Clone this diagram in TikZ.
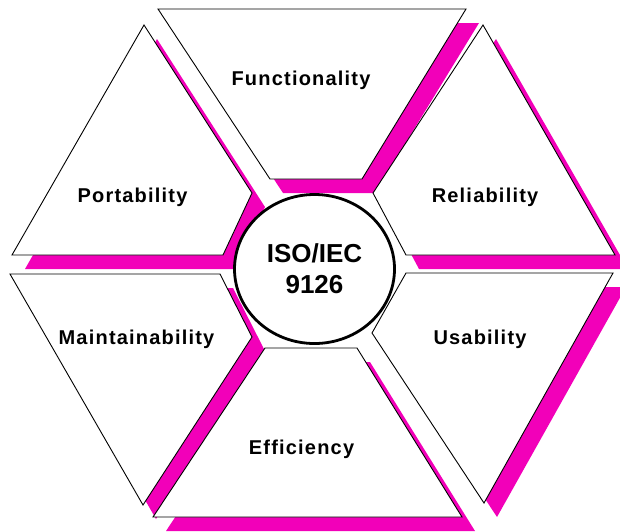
\documentclass[tikz,border=0pt]{standalone}
\usepackage{fontspec}
\setmainfont{Liberation Sans}
\newfontfamily\facetfont{Liberation Sans}[LetterSpace=6]
\usetikzlibrary{shapes.geometric}
\definecolor{shadowpink}{RGB}{242,0,185}

\begin{document}
\begin{tikzpicture}[x=1pt,y=-1pt,
		facet/.style={draw=black,line width=0.9pt,fill=white},
		facetshadow/.style={fill=shadowpink,transform canvas={shift={(13,14)}}},
		facetlabel/.style={anchor=base,font=\facetfont\bfseries\fontsize{20}{20}\selectfont},
		hub/.style={ellipse,draw=black,line width=2.8pt,fill=white,
			minimum width=160pt,minimum height=149pt,align=center,
			font=\bfseries\fontsize{26}{31}\selectfont}]
	\useasboundingbox (0,0) rectangle (620,531);
	\coordinate (F1) at (158,9);   \coordinate (F2) at (466,9);
	\coordinate (F3) at (362,179); \coordinate (F4) at (270,179);
	\coordinate (R1) at (483,25);  \coordinate (R2) at (615,255);
	\coordinate (R3) at (406,255); \coordinate (R4) at (373,193);
	\coordinate (U1) at (406,273); \coordinate (U2) at (613,273);
	\coordinate (U3) at (484,503); \coordinate (U4) at (372,333);
	\coordinate (E1) at (265,348); \coordinate (E2) at (357,348);
	\coordinate (E3) at (462,517); \coordinate (E4) at (153,517);
	\coordinate (M1) at (10,274);  \coordinate (M2) at (220,274);
	\coordinate (M3) at (252,337); \coordinate (M4) at (143,505);
	\coordinate (P1) at (144,25);  \coordinate (P2) at (252,193);
	\coordinate (P3) at (223,255); \coordinate (P4) at (12,255);
	\foreach \f in {F,R,U,E,M,P}
		\fill[facetshadow] (\f1) -- (\f2) -- (\f3) -- (\f4) -- cycle;
	\foreach \f in {F,R,U,E,M,P}
		\draw[facet] (\f1) -- (\f2) -- (\f3) -- (\f4) -- cycle;
	\node[facetlabel] (functionality) at (301,85) {Functionality};
	\node[facetlabel] (reliability) at (485,202) {Reliability};
	\node[facetlabel] (usability) at (480,344) {Usability};
	\node[facetlabel] (efficiency) at (301.5,454) {Efficiency};
	\node[facetlabel] (maintainability) at (136.5,344) {Maintainability};
	\node[facetlabel] (portability) at (132.5,202) {Portability};
	\node[hub] (iso) at (314.5,269) {ISO/IEC\\9126};
\end{tikzpicture}
\end{document}
